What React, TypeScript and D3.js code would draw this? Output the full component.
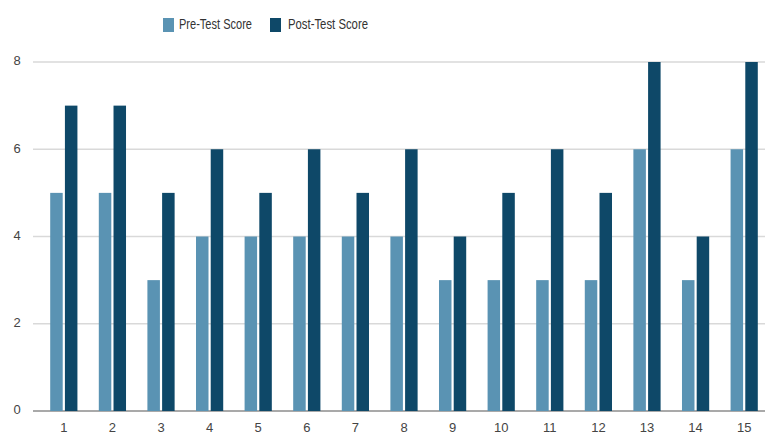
import * as d3 from "d3";

const categories = ["1", "2", "3", "4", "5", "6", "7", "8", "9", "10", "11", "12", "13", "14", "15"];
const preTest = [5, 5, 3, 4, 4, 4, 4, 4, 3, 3, 3, 3, 6, 3, 6];
const postTest = [7, 7, 5, 6, 5, 6, 5, 6, 4, 5, 6, 5, 8, 4, 8];
const yTicks = [0, 2, 4, 6, 8];

const series = [
  { name: "Pre-Test Score", values: preTest, color: "#5a93b3", labelWidth: 73 },
  { name: "Post-Test Score", values: postTest, color: "#0e4868", labelWidth: 80 },
];

const width = 765;
const height = 434;
const margin = { top: 62, right: -3, bottom: 23, left: 40 };

export default function App() {
  const x = d3
    .scaleBand()
    .domain(categories)
    .range([margin.left, width - margin.right])
    .paddingInner(0.44)
    .paddingOuter(0.21);
  const inner = d3
    .scaleBand()
    .domain(series.map((s) => s.name))
    .range([0, x.bandwidth()])
    .paddingInner(0.15);
  const y = d3
    .scaleLinear()
    .domain([0, 8])
    .range([height - margin.bottom, margin.top]);

  const font = "Arial, 'Liberation Sans', sans-serif";

  return (
    <svg
      width={width}
      height={height}
      style={{ position: "absolute", left: 0, top: 0, background: "#fff" }}
      fontFamily={font}
    >
      {/* grid */}
      {yTicks.map((t) => (
        <g key={t}>
          <line
            x1={33}
            x2={width}
            y1={y(t)}
            y2={y(t)}
            stroke={t === 0 ? "#555" : "#d9d9d9"}
            strokeWidth={t === 0 ? 1.2 : 1.5}
          />
          <text x={17} y={y(t)} textAnchor="middle" dominantBaseline="middle" fontSize={13} fill="#444">
            {t}
          </text>
        </g>
      ))}

      {/* bars */}
      {series.map((s) => (
        <g key={s.name}>
          {s.values.map((v, i) => (
            <rect
              key={i}
              x={(x(categories[i]) ?? 0) + (inner(s.name) ?? 0)}
              y={y(v)}
              width={inner.bandwidth()}
              height={y(0) - y(v)}
              fill={s.color}
            />
          ))}
        </g>
      ))}

      {/* x labels */}
      {categories.map((c) => (
        <text
          key={c}
          x={(x(c) ?? 0) + x.bandwidth() / 2}
          y={y(0) + 21}
          textAnchor="middle"
          fontSize={13}
          fill="#444"
        >
          {c}
        </text>
      ))}

      {/* legend */}
      <g>
        <rect x={163} y={18} width={11} height={14} fill={series[0].color} />
        <text
          x={179}
          y={25}
          dominantBaseline="middle"
          fontSize={14}
          fill="#333"
          textLength={series[0].labelWidth}
          lengthAdjust="spacingAndGlyphs"
        >
          {series[0].name}
        </text>
        <rect x={270} y={18} width={11} height={14} fill={series[1].color} />
        <text
          x={288}
          y={25}
          dominantBaseline="middle"
          fontSize={14}
          fill="#333"
          textLength={series[1].labelWidth}
          lengthAdjust="spacingAndGlyphs"
        >
          {series[1].name}
        </text>
      </g>
    </svg>
  );
}
